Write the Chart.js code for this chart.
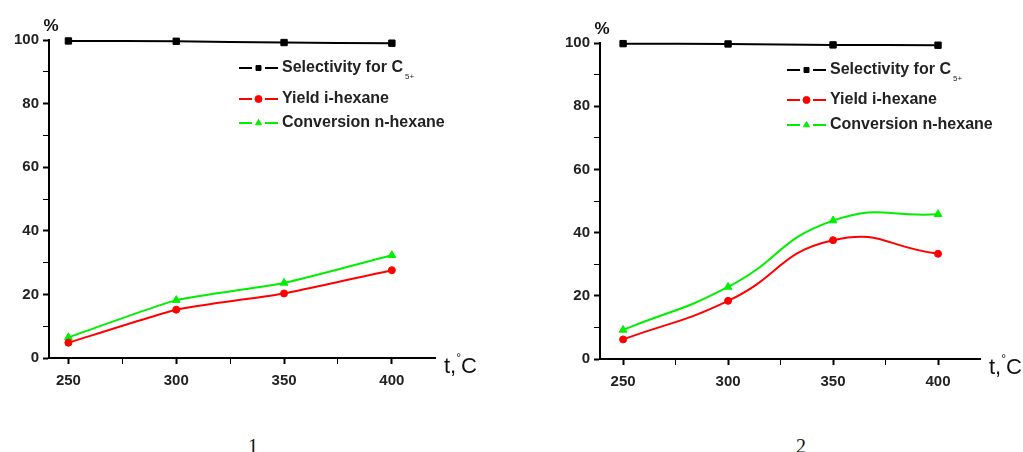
<!DOCTYPE html>
<html>
<head>
<meta charset="utf-8">
<script src="https://cdn.jsdelivr.net/npm/chart.js@4"></script>
<style>
  html, body { margin: 0; padding: 0; background: #fff; }
  body { width: 1023px; height: 452px; position: relative; overflow: hidden; }
  .panel { position: absolute; top: 0; height: 410px; }
  .caption { position: absolute; top: 435px; font: 20px "Liberation Serif", "Times New Roman", serif; color: #111; }
</style>
</head>
<body>
<div class="panel" style="left:0; width:480px;"><canvas id="chart1"></canvas></div>
<div class="panel" style="left:551px; width:472px;"><canvas id="chart2"></canvas></div>
<div class="caption" style="left:248px;">1</div>
<div class="caption" style="left:796px;">2</div>

<script>
// temperature, °C
const temps = [250, 300, 350, 400];
const minorTemps = [250, 275, 300, 325, 350, 375, 400];

// catalyst 1, %
const selectivity1 = [99.7, 99.6, 99.2, 99.0];
const yield1 = [4.8, 15.2, 20.3, 27.6];
const conversion1 = [6.5, 18.2, 23.6, 32.3];

// catalyst 2, %
const selectivity2 = [99.8, 99.7, 99.4, 99.3];
const yield2 = [6.2, 18.4, 37.6, 33.3];
const conversion2 = [9.2, 22.8, 43.8, 45.8];

const seriesNames = ['Selectivity for C', 'Yield i-hexane', 'Conversion n-hexane'];
const seriesSubs = ['5+', '', ''];
const seriesColors = ['#000000', '#ff0000', '#00ee00'];
const seriesPoints = ['rect', 'circle', 'triangle'];
const seriesRadius = [4.5, 3.5, 4.5];

const tickFont = { family: 'Arial, "Liberation Sans", sans-serif', size: 15, weight: 'bold' };

// legend inside the plot, plus the "%" and "t,°C" axis captions
const decorations = {
    id: 'decorations',
    afterDraw(chart, args, opts) {
        const { ctx, chartArea } = chart;
        const x0 = chartArea.left + opts.legendX;
        ctx.save();
        chart.data.datasets.forEach((ds, i) => {
            const y = chartArea.top + opts.rows[i];
            ctx.strokeStyle = ds.borderColor;
            ctx.fillStyle = ds.borderColor;
            ctx.lineWidth = 2;
            ctx.beginPath();
            ctx.moveTo(x0, y); ctx.lineTo(x0 + 13, y);
            ctx.moveTo(x0 + 26, y); ctx.lineTo(x0 + 39, y);
            ctx.stroke();
            ctx.lineWidth = 1;
            Chart.helpers.drawPoint(ctx, { pointStyle: ds.pointStyle, radius: 3.5, borderWidth: 1 }, x0 + 19.5, y);

            ctx.fillStyle = '#222';
            ctx.textBaseline = 'middle';
            ctx.textAlign = 'left';
            ctx.font = 'bold 16px Arial, "Liberation Sans", sans-serif';
            ctx.fillText(seriesNames[i], x0 + 43, y);
            if (seriesSubs[i]) {
                const w = ctx.measureText(seriesNames[i]).width;
                ctx.font = '8px Arial, "Liberation Sans", sans-serif';
                ctx.fillText(seriesSubs[i], x0 + 45 + w, y + 9);
            }
        });

        // "%" above the value axis
        ctx.fillStyle = '#111';
        ctx.textAlign = 'center';
        ctx.textBaseline = 'middle';
        ctx.font = 'bold 17px Arial, "Liberation Sans", sans-serif';
        ctx.fillText('%', chartArea.left + 2, chartArea.top - 14);

        // "t,°C" at the end of the temperature axis
        let tx = chartArea.right + 9;
        const ty = chartArea.bottom + 9;
        ctx.textAlign = 'left';
        ctx.font = '22px Arial, "Liberation Sans", sans-serif';
        ctx.fillText('t,', tx, ty);
        tx += ctx.measureText('t,').width;
        ctx.font = '12px Arial, "Liberation Sans", sans-serif';
        ctx.fillText('°', tx, ty - 8);
        tx += ctx.measureText('°').width;
        ctx.font = '22px Arial, "Liberation Sans", sans-serif';
        ctx.fillText('C', tx, ty);
        ctx.restore();
    }
};

function makeChart(id, series, tension, pad, legend) {
    const datasets = series.map((values, i) => ({
        label: seriesNames[i] + seriesSubs[i],
        data: temps.map((t, j) => ({ x: t, y: values[j] })),
        borderColor: seriesColors[i],
        backgroundColor: seriesColors[i],
        borderWidth: 2,
        pointStyle: seriesPoints[i],
        pointRadius: seriesRadius[i],
        pointBorderWidth: 1,
        tension: tension,
        clip: false
    }));

    return new Chart(document.getElementById(id), {
        type: 'line',
        data: { datasets },
        options: {
            responsive: true,
            maintainAspectRatio: false,
            animation: false,
            layout: { padding: pad },
            plugins: {
                legend: { display: false },
                tooltip: { enabled: false },
                decorations: legend
            },
            scales: {
                x: {
                    type: 'linear',
                    min: pad.xMin,
                    max: 420,
                    afterBuildTicks: s => { s.ticks = minorTemps.map(value => ({ value })); },
                    afterFit: s => { s.height = pad.xHeight; },
                    border: { display: true, color: '#000', width: 2 },
                    grid: {
                        drawOnChartArea: false,
                        drawTicks: true,
                        tickLength: 6,
                        tickColor: '#000',
                        tickWidth: c => (c.tick && c.tick.value % 50 === 0 ? 2 : 1)
                    },
                    ticks: {
                        color: '#222',
                        font: tickFont,
                        padding: 8,
                        maxRotation: 0,
                        autoSkip: false,
                        callback: v => (v % 50 === 0 ? v : '')
                    }
                },
                y: {
                    min: 0,
                    max: 100,
                    afterBuildTicks: s => {
                        s.ticks = [0, 10, 20, 30, 40, 50, 60, 70, 80, 90, 100].map(value => ({ value }));
                    },
                    afterFit: s => { s.width = 49; },
                    border: { display: true, color: '#000', width: 2 },
                    grid: {
                        drawOnChartArea: false,
                        drawTicks: true,
                        tickLength: 6,
                        tickColor: '#000',
                        tickWidth: c => (c.tick && c.tick.value % 20 === 0 ? 2 : 1)
                    },
                    ticks: {
                        color: '#222',
                        font: tickFont,
                        padding: 4,
                        autoSkip: false,
                        callback: v => (v % 20 === 0 ? v : '')
                    }
                }
            }
        },
        plugins: [decorations]
    });
}

makeChart('chart1', [selectivity1, yield1, conversion1], 0.15,
    { top: 40, right: 45, bottom: 0, left: 0, xHeight: 52, xMin: 241 },
    { legendX: 190, rows: [28, 59, 83] });

makeChart('chart2', [selectivity2, yield2, conversion2], 0.5,
    { top: 43, right: 43, bottom: 0, left: 0, xHeight: 51, xMin: 239 },
    { legendX: 187, rows: [27, 57, 82] });
</script>
</body>
</html>
